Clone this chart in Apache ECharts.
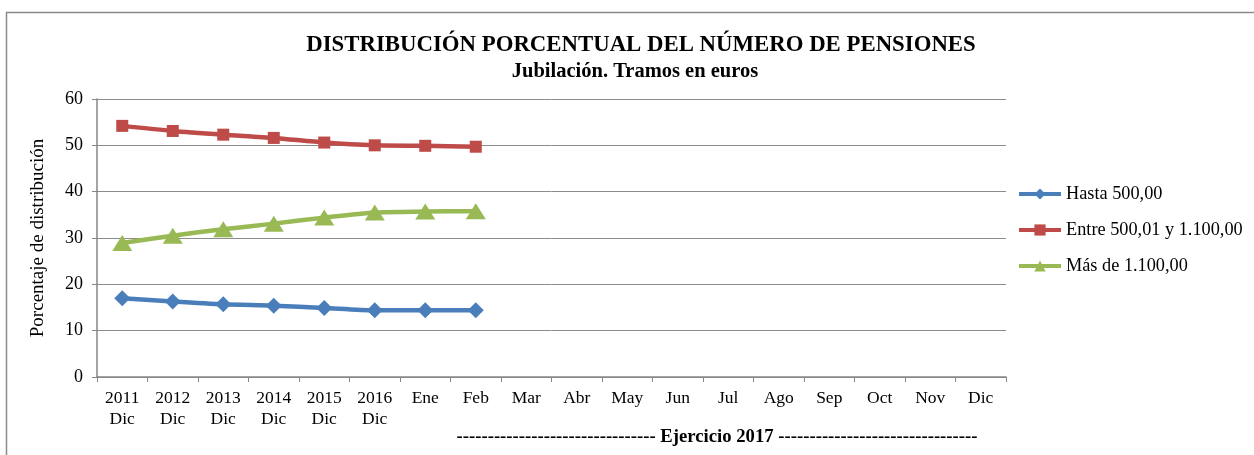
<!DOCTYPE html>
<html lang="es">
<head>
    <meta charset="UTF-8">
    <title>Distribución porcentual del número de pensiones</title>
    <style>
        html, body { margin: 0; padding: 0; background: #fff; }
        #main { width: 1254px; height: 455px; }
    </style>
</head>
<body>
<div id="main"></div>
<script src="https://cdn.jsdelivr.net/npm/echarts@6/dist/echarts.min.js"></script>
<script>
    // categorias del eje X
    var categorias = ['2011\nDic', '2012\nDic', '2013\nDic', '2014\nDic', '2015\nDic', '2016\nDic',
        'Ene', 'Feb', 'Mar', 'Abr', 'May', 'Jun', 'Jul', 'Ago', 'Sep', 'Oct', 'Nov', 'Dic'];
    // valores (%)
    var hasta500 = [17.0, 16.3, 15.7, 15.4, 14.9, 14.4, 14.4, 14.4];
    var entre500y1100 = [54.2, 53.1, 52.3, 51.6, 50.6, 50.0, 49.9, 49.7];
    var mas1100 = [28.9, 30.5, 31.9, 33.1, 34.4, 35.5, 35.7, 35.8];
    var nombres = ['Hasta 500,00', 'Entre 500,01 y 1.100,00', 'Más de 1.100,00'];

    var fuente = '"Liberation Serif", "Times New Roman", serif';
    var myChart = echarts.init(document.getElementById('main'));

    function serie(nombre, datos, color, simbolo, tam) {
        return {
            name: nombre,
            type: 'line',
            data: datos,
            smooth: 0.25,
            symbol: simbolo,
            symbolSize: tam,
            lineStyle: { width: 4.5, color: color },
            itemStyle: { color: color },
            z: 3
        };
    }

    var option = {
        animation: false,
        backgroundColor: '#fff',
        title: [{
            text: 'DISTRIBUCIÓN PORCENTUAL DEL NÚMERO DE PENSIONES',
            left: 636, top: 29, textAlign: 'center',
            textStyle: { fontFamily: fuente, fontSize: 22.8, fontWeight: 'bold', color: '#000' }
        }, {
            text: 'Jubilación. Tramos en euros',
            left: 630, top: 56, textAlign: 'center',
            textStyle: { fontFamily: fuente, fontSize: 20.5, fontWeight: 'bold', color: '#000' }
        }],
        legend: {
            orient: 'vertical',
            left: 1012, top: 180,
            itemWidth: 42, itemHeight: 14, itemGap: 18,
            data: nombres,
            lineStyle: { width: 4 },
            textStyle: { fontFamily: fuente, fontSize: 18.3, color: '#000' }
        },
        grid: { left: 97, right: 248, top: 99, bottom: 78 },
        xAxis: {
            type: 'category',
            data: categorias,
            boundaryGap: true,
            axisLine: { lineStyle: { color: '#868686', width: 1.5 } },
            axisTick: { show: true, length: 5, lineStyle: { color: '#868686' } },
            axisLabel: { interval: 0, margin: 11, fontFamily: fuente, fontSize: 17.5, lineHeight: 21, color: '#000' },
            splitLine: { show: false }
        },
        yAxis: {
            type: 'value',
            min: 0, max: 60, interval: 10,
            name: 'Porcentaje de distribución',
            nameLocation: 'middle', nameGap: 49, nameRotate: 90,
            nameTextStyle: { fontFamily: fuente, fontSize: 19, color: '#000' },
            axisLine: { show: true, lineStyle: { color: '#868686', width: 1.5 } },
            axisTick: { show: true, length: 5, lineStyle: { color: '#868686' } },
            axisLabel: { margin: 14, fontFamily: fuente, fontSize: 18, color: '#000' },
            splitLine: { lineStyle: { color: '#8c8c8c', width: 1 } }
        },
        series: [
            serie(nombres[0], hasta500, '#4A7EBB', 'diamond', [16, 16]),
            serie(nombres[1], entre500y1100, '#BE4B48', 'rect', 12),
            serie(nombres[2], mas1100, '#98B954', 'triangle', [20, 16])
        ],
        graphic: [{
            type: 'rect',
            shape: { x: 6.5, y: 12.5, width: 1300, height: 500 },
            style: { fill: 'none', stroke: '#8a8a8a', lineWidth: 1.5 },
            silent: true
        }, {
            type: 'text',
            x: 717, y: 437,
            style: {
                text: '-------------------------------- Ejercicio 2017 --------------------------------',
                font: 'bold 18.7px ' + fuente, fill: '#000',
                align: 'center', verticalAlign: 'middle'
            }
        }]
    };
    myChart.setOption(option);
    window.addEventListener('resize', function () {
        myChart.resize();
    });
</script>
</body>
</html>
